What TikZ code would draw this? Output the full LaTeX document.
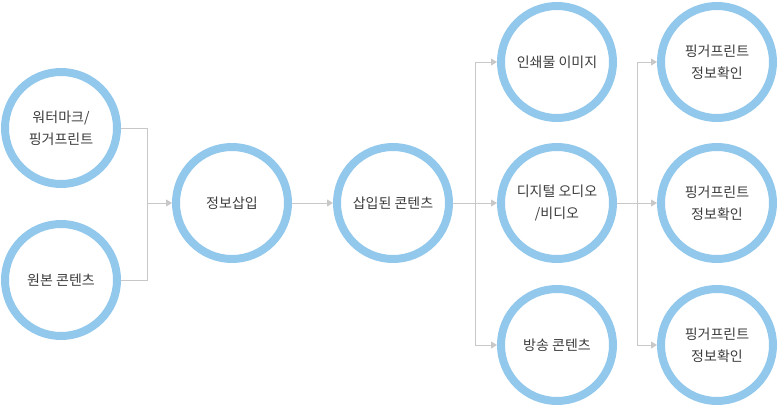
\documentclass[tikz,border=0pt]{standalone}
\usepackage{fontspec}
\setmainfont{Noto Sans CJK KR}
\usetikzlibrary{arrows.meta}
\definecolor{ringblue}{RGB}{146,200,236}
\definecolor{linkgray}{RGB}{200,200,200}
\definecolor{txtgray}{RGB}{60,60,60}

\begin{document}
\begin{tikzpicture}[x = 1pt, y = -1pt, >={Triangle[length=6pt,width=7pt]},
  ring/.style = {circle, draw = ringblue, line width = 8pt, minimum size = 112pt,
    align = center, text = txtgray, font = \fontsize{14pt}{22pt}\selectfont},
  link/.style = {draw = linkgray, line width = 0.9pt}]
\useasboundingbox (0,0) rectangle (779,406);

\node [ring] (wm)   at (61,128)  {워터마크/\\핑거프린트};
\node [ring] (orig) at (61,280)  {원본 콘텐츠};
\node [ring] (ins)  at (232,203) {정보삽입};
\node [ring] (cont) at (393,203) {삽입된 콘텐츠};
\node [ring] (prt)  at (557,62)  {인쇄물 이미지};
\node [ring] (dig)  at (557,203) {디지털 오디오\\/비디오};
\node [ring] (bc)   at (557,345) {방송 콘텐츠};
\node [ring] (f1)   at (717,62)  {핑거프린트\\정보확인};
\node [ring] (f2)   at (717,203) {핑거프린트\\정보확인};
\node [ring] (f3)   at (717,345) {핑거프린트\\정보확인};

% joins
\coordinate (j1) at (147,203);
\coordinate (j2) at (475,203);
\coordinate (j3) at (637,203);

\draw [link] (wm.east) -| (j1);
\draw [link] (orig.east) -| (j1);
\draw [link, ->, linkgray] (j1) -- (ins.west);
\draw [link, ->, linkgray] (ins.east) -- (cont.west);

\draw [link] (cont.east) -- (j2);
\foreach \n in {prt, dig, bc}
  \draw [link, ->, linkgray] (j2) |- (\n.west);

\draw [link] (dig.east) -- (j3);
\foreach \n in {f1, f2, f3}
  \draw [link, ->, linkgray] (j3) |- (\n.west);
\end{tikzpicture}
\end{document}
